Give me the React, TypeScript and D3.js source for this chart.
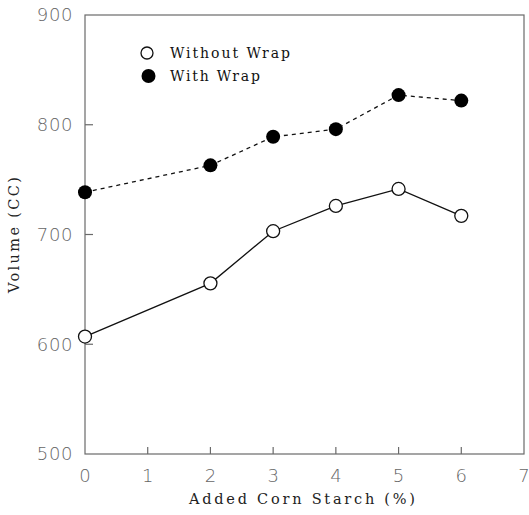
import React from "react";
import * as d3 from "d3";

// Added corn starch levels (%)
const starch = [0, 2, 3, 4, 5, 6];
// Loaf volume (cc) for each starch level
const withoutWrap = [607, 655.5, 703, 726, 741.5, 717];
const withWrap = [738.5, 763, 789, 796, 827, 822];
const xTicks = [0, 1, 2, 3, 4, 5, 6, 7];
const yTicks = [500, 600, 700, 800, 900];
const seriesNames = ["Without Wrap", "With Wrap"];

const W = 529;
const H = 515;
const left = 85;
const right = 524;
const top = 15;
const bottom = 454;

const axisGray = "#6a6a6a";
const labelGray = "#666";
const serifFont = "'DejaVu Serif', 'Liberation Serif', serif";

export default function App() {
  const x = d3.scaleLinear().domain([0, 7]).range([left, right]);
  const y = d3.scaleLinear().domain([500, 900]).range([bottom, top]);

  const line = d3
    .line<number>()
    .x((_, i) => x(starch[i]))
    .y((d) => y(d));

  return (
    <svg
      width={W}
      height={H}
      style={{ position: "absolute", left: 0, top: 0, background: "#fff" }}
    >
      {/* frame */}
      <rect
        x={left}
        y={top}
        width={right - left}
        height={bottom - top}
        fill="none"
        stroke={axisGray}
        strokeWidth={1.2}
      />

      {/* y ticks and labels */}
      {yTicks.map((t) => (
        <g key={"y" + t}>
          {t > 500 && t < 900 && (
            <line
              x1={left}
              x2={left + 8}
              y1={y(t)}
              y2={y(t)}
              stroke={axisGray}
              strokeWidth={1.2}
            />
          )}
          <text
            x={73}
            y={y(t)}
            dy="0.36em"
            textAnchor="end"
            fontFamily="'DejaVu Sans', sans-serif"
            fontWeight={300}
            fontSize={18}
            letterSpacing={0.6}
            fill={labelGray}
          >
            {t}
          </text>
        </g>
      ))}

      {/* x ticks and labels */}
      {xTicks.map((t) => (
        <g key={"x" + t}>
          {t > 0 && t < 7 && (
            <line
              x1={x(t)}
              x2={x(t)}
              y1={bottom}
              y2={bottom - 7}
              stroke={axisGray}
              strokeWidth={1.2}
            />
          )}
          <text
            x={x(t)}
            y={482}
            textAnchor="middle"
            fontFamily="'DejaVu Sans', sans-serif"
            fontWeight={300}
            fontSize={18}
            fill={labelGray}
          >
            {t}
          </text>
        </g>
      ))}

      {/* axis titles */}
      <text
        x={302}
        y={504}
        textAnchor="middle"
        fontFamily={serifFont}
        fontSize={14.5}
        textLength={226}
        lengthAdjust="spacing"
        fill="#222"
      >
        Added Corn Starch (%)
      </text>
      <text
        transform={`translate(19,${235}) rotate(-90)`}
        textAnchor="middle"
        fontFamily={serifFont}
        fontSize={14.5}
        textLength={116}
        lengthAdjust="spacing"
        fill="#222"
      >
        Volume (CC)
      </text>

      {/* series lines */}
      <path
        d={line(withWrap) || ""}
        fill="none"
        stroke="#111"
        strokeWidth={1.3}
        strokeDasharray="4 4"
      />
      <path
        d={line(withoutWrap) || ""}
        fill="none"
        stroke="#111"
        strokeWidth={1.3}
      />

      {/* markers */}
      {withWrap.map((v, i) => (
        <circle key={"w" + i} cx={x(starch[i])} cy={y(v)} r={7} fill="#000" />
      ))}
      {withoutWrap.map((v, i) => (
        <circle
          key={"o" + i}
          cx={x(starch[i])}
          cy={y(v)}
          r={6.5}
          fill="#fff"
          stroke="#111"
          strokeWidth={1.3}
        />
      ))}

      {/* legend */}
      <circle cx={147} cy={53} r={6} fill="#fff" stroke="#111" strokeWidth={1.3} />
      <text
        x={170}
        y={58}
        fontFamily={serifFont}
        fontSize={14}
        textLength={120}
        lengthAdjust="spacing"
        fill="#111"
      >
        {seriesNames[0]}
      </text>
      <circle cx={148.5} cy={76} r={7} fill="#000" />
      <text
        x={170}
        y={81}
        fontFamily={serifFont}
        fontSize={14}
        textLength={90}
        lengthAdjust="spacing"
        fill="#111"
      >
        {seriesNames[1]}
      </text>
    </svg>
  );
}
